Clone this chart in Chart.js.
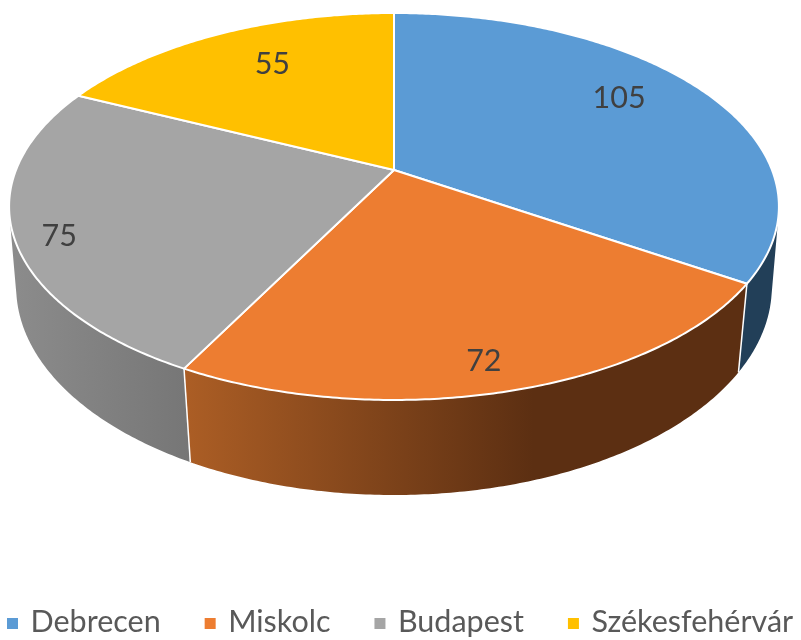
<!DOCTYPE html>
<html lang="hu">
<head>
  <meta charset="UTF-8">
  <title>Pie 3D</title>
  <style>
    html, body { margin: 0; padding: 0; background: #fff; }
    canvas { display: block; filter: blur(0.5px); }
  </style>
  <script src="https://cdn.jsdelivr.net/npm/chart.js"></script>
</head>
<body>
  <canvas id="chartCanvas" width="801" height="640"></canvas>
  <script>
    const cities = ["Debrecen", "Miskolc", "Budapest", "Székesfehérvár"];
    const values = [105, 72, 75, 55];
    const colors = ["#5B9BD5", "#ED7D31", "#A5A5A5", "#FFC000"];
    // side wall colours, left to right
    const wallStops = [
      [[0, "#223F58"], [1, "#223F58"]],
      [[0, "#AC5E25"], [0.62, "#5C2F12"], [1, "#5C2F12"]],
      [[0, "#8C8C8C"], [1, "#767676"]],
      [[0, "#7F6000"], [1, "#7F6000"]]
    ];
    // where the value sits inside its slice
    const labelShare = [0.46, 0.518, 0.466, 0.546];
    const labelRadius = [0.77, 0.877, 0.893, 0.738];

    // perspective of the disc: top face and bottom face
    const topFace = { cx: 394, cy: 170, a: 378, s: 186.6, k: -0.1886 };
    const bottomFace = { cx: 394, cy: 250.4, a: 372, s: 201.8, k: -0.175 };
    const textFont = "30.5px Lato";

    function project(face, angle, r) {
      const X = r * Math.cos(angle);
      const Y = r * Math.sin(angle);
      const d = 1 + face.k * Y;
      return [face.cx + face.a * X / d, face.cy + face.s * Y / d];
    }

    function ring(face, from, to) {
      const pts = [];
      const n = Math.ceil((to - from) / 0.01);
      for (let i = 0; i <= n; i++) pts.push(project(face, from + (to - from) * i / n, 1));
      return pts;
    }

    function tracePath(ctx, pts) {
      pts.forEach((p, i) => i ? ctx.lineTo(p[0], p[1]) : ctx.moveTo(p[0], p[1]));
      ctx.closePath();
    }

    function area(q) {
      let sum = 0;
      q.forEach((p, i) => {
        const o = q[(i + 1) % q.length];
        sum += p[0] * o[1] - o[0] * p[1];
      });
      return sum;
    }

    const pie3d = {
      id: "pie3d",
      beforeDatasetDraw(chart, args) {
        const ctx = chart.ctx;
        const arcs = args.meta.data;
        ctx.save();
        ctx.lineJoin = "round";
        ctx.strokeStyle = "#fff";

        // walls, back to front
        [3, 0, 2, 1].forEach(i => {
          const arc = arcs[i];
          const top = ring(topFace, arc.startAngle, arc.endAngle);
          const bottom = ring(bottomFace, arc.startAngle, arc.endAngle);
          const xs = top.concat(bottom).map(p => p[0]);
          const grad = ctx.createLinearGradient(Math.min(...xs), 0, Math.max(...xs), 0);
          wallStops[i].forEach(s => grad.addColorStop(s[0], s[1]));
          ctx.beginPath();
          for (let j = 0; j < top.length - 1; j++) {
            const q = [top[j], top[j + 1], bottom[j + 1], bottom[j]];
            tracePath(ctx, area(q) < 0 ? q.reverse() : q);
          }
          ctx.fillStyle = grad;
          ctx.fill();
        });

        // white edges between the walls
        ctx.lineWidth = 1.5;
        arcs.forEach(arc => {
          const a = project(topFace, arc.startAngle, 1);
          const b = project(bottomFace, arc.startAngle, 1);
          ctx.beginPath();
          ctx.moveTo(a[0], a[1]);
          ctx.lineTo(b[0], b[1]);
          ctx.stroke();
        });

        // top face
        ctx.lineWidth = 2;
        arcs.forEach((arc, i) => {
          ctx.beginPath();
          tracePath(ctx, [project(topFace, 0, 0)].concat(ring(topFace, arc.startAngle, arc.endAngle)));
          ctx.fillStyle = colors[i];
          ctx.fill();
          ctx.stroke();
        });

        // value labels
        ctx.fillStyle = "#404040";
        ctx.font = textFont;
        ctx.textAlign = "center";
        ctx.textBaseline = "middle";
        arcs.forEach((arc, i) => {
          const angle = arc.startAngle + (arc.endAngle - arc.startAngle) * labelShare[i];
          const p = project(topFace, angle, labelRadius[i]);
          ctx.fillText(values[i], p[0], p[1] + 1);
        });

        // legend, one row across the whole width
        ctx.font = textFont;
        ctx.textAlign = "left";
        let x = 7;
        cities.forEach((city, i) => {
          ctx.fillStyle = colors[i];
          ctx.fillRect(x, 618, 11, 11);
          ctx.fillStyle = "#595959";
          ctx.fillText(city, x + 23.5, 622);
          x += 23.5 + ctx.measureText(city).width + 44;
        });
        ctx.restore();
        return false;
      }
    };

    new Chart(document.getElementById("chartCanvas"), {
      type: "pie",
      data: {
        labels: cities,
        datasets: [{ data: values, backgroundColor: colors, borderWidth: 0 }]
      },
      options: {
        responsive: false,
        animation: false,
        plugins: {
          tooltip: { enabled: false },
          legend: { display: false }
        }
      },
      plugins: [pie3d]
    });
  </script>
</body>
</html>
